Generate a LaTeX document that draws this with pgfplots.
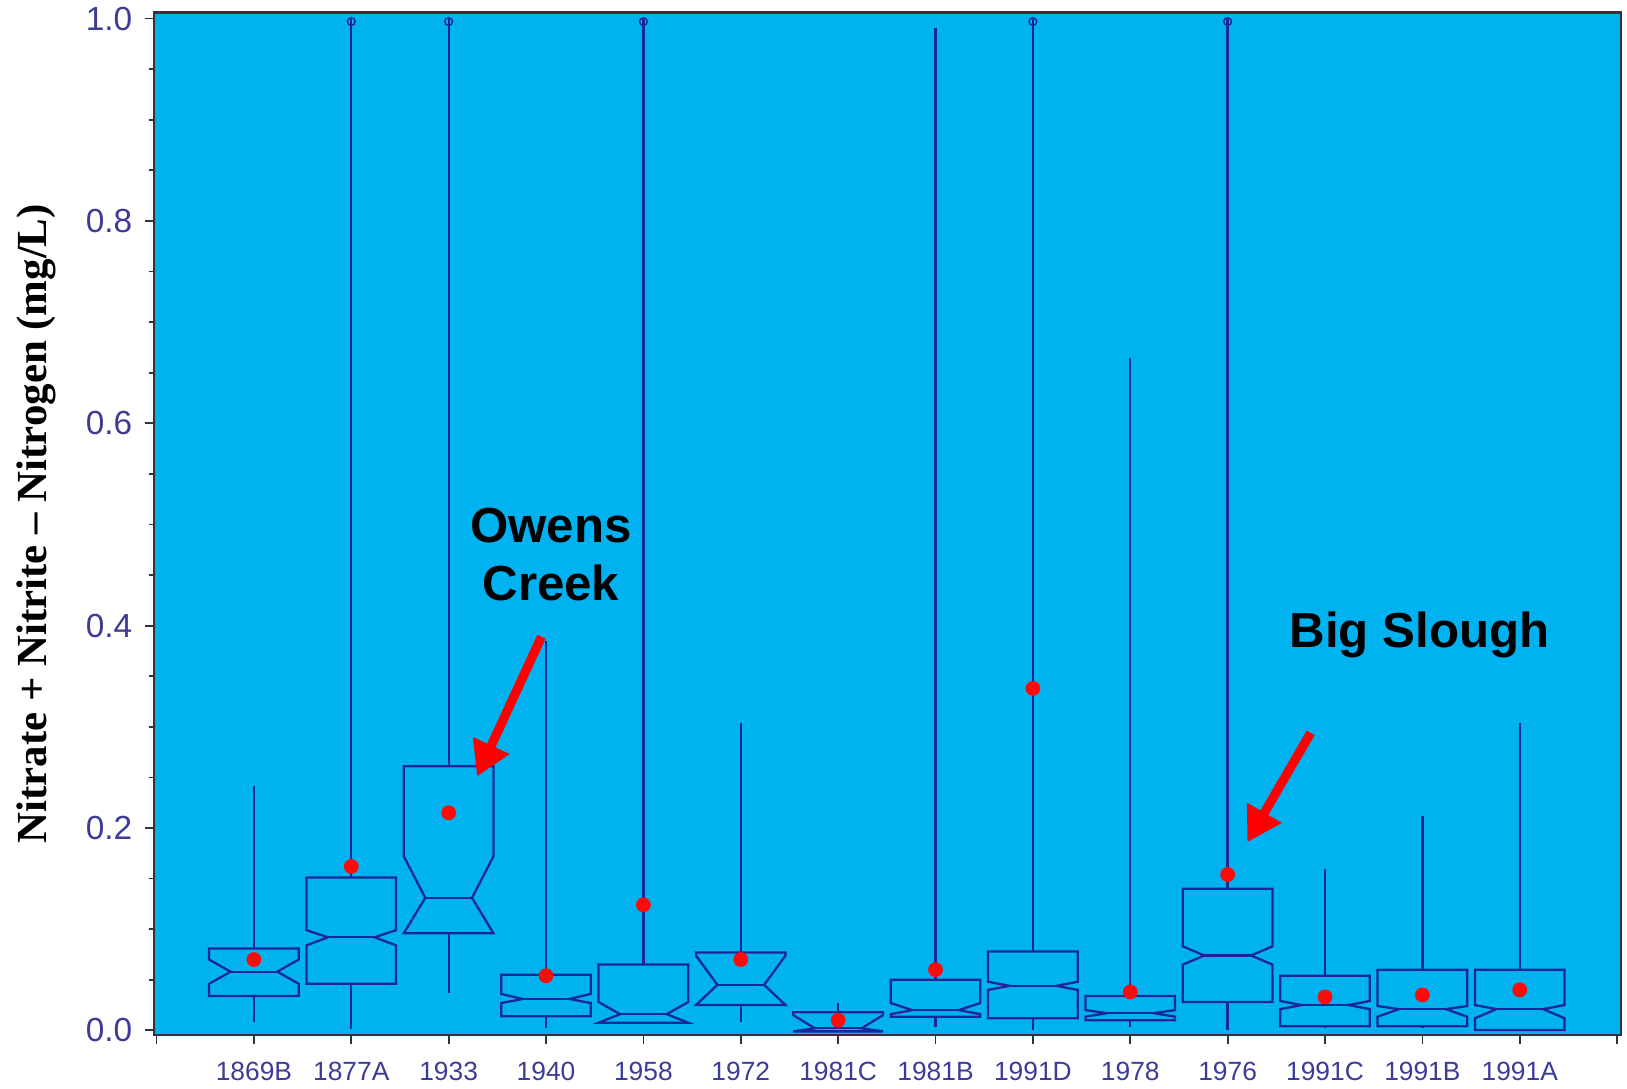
\documentclass[border=0pt]{standalone}
\usepackage{fontspec}
\setmainfont{Liberation Sans}
\newfontfamily\ylabfont{Liberation Serif}
\usepackage{pgfplots}
\pgfplotsset{compat=1.18}
\usetikzlibrary{arrows.meta}
\definecolor{bg}{RGB}{0,178,240}
\definecolor{boxc}{RGB}{25,40,150}
\definecolor{tickc}{RGB}{60,60,150}
\definecolor{meanred}{RGB}{255,10,10}
\tikzset{boxline/.style={boxc, line width=0.65pt, mark=none}}
% #1 x, #2 lower whisker, #3 Q1, #4 notch low, #5 median, #6 notch high, #7 Q3, #8 upper whisker, #9 mean
\newcommand{\nbox}[9]{%
  \pgfmathsetmacro\xa{#1-0.46}%
  \pgfmathsetmacro\xb{#1-0.24}%
  \pgfmathsetmacro\xc{#1+0.24}%
  \pgfmathsetmacro\xd{#1+0.46}%
  \edef\tmp{%
    \noexpand\addplot[boxline] coordinates {(#1,#7) (#1,#8)};
    \noexpand\addplot[boxline] coordinates {(#1,#3) (#1,#2)};
    \noexpand\addplot[boxline] coordinates {(\xa,#7) (\xd,#7) (\xd,#6) (\xc,#5) (\xd,#4) (\xd,#3) (\xa,#3) (\xa,#4) (\xb,#5) (\xa,#6) (\xa,#7) (\xd,#7)};
    \noexpand\addplot[boxline] coordinates {(\xb,#5) (\xc,#5)};
    \noexpand\addplot[only marks, mark=*, mark size=1.9pt, meanred] coordinates {(#1,#9)};
  }\tmp}
\begin{document}
\begin{tikzpicture}
\begin{axis}[name=ax, scale only axis, width=14.674cm, height=10.225cm,
  xmin=-0.03, xmax=15.04, ymin=-0.0046, ymax=1.006,
  axis background/.style={fill=bg},
  xtick={0,...,15},
  xticklabels={,1869B,1877A,1933,1940,1958,1972,1981C,1981B,1991D,1978,1976,1991C,1991B,1991A,},
  ytick={0,0.2,0.4,0.6,0.8,1.0}, minor y tick num=3,
  tick align=outside, xtick pos=bottom, ytick pos=left,
  major tick length=0.09cm, minor tick length=0.05cm,
  every tick/.style={black!80, line width=0.5pt},
  /pgf/number format/assume math mode=true,
  yticklabel style={/pgf/number format/.cd, fixed, fixed zerofill, precision=1, /tikz/.cd, font=\fontsize{9.5}{11}\selectfont, text=tickc},
  xticklabel style={font=\fontsize{7.5}{9}\selectfont, text=tickc, yshift=-0.06cm},
  axis line style={black!80, line width=0.6pt},
  clip=false,
]
\nbox{1}{0.008}{0.034}{0.046}{0.058}{0.070}{0.081}{0.242}{0.070}
\nbox{2}{0.001}{0.046}{0.084}{0.092}{0.099}{0.151}{1.0}{0.162}
\nbox{3}{0.037}{0.096}{0.096}{0.131}{0.172}{0.261}{1.0}{0.215}
\nbox{4}{0.002}{0.014}{0.027}{0.031}{0.036}{0.055}{0.385}{0.054}
\nbox{5}{0.0076}{0.0076}{0.0076}{0.016}{0.028}{0.065}{1.0}{0.124}
\nbox{6}{0.008}{0.025}{0.025}{0.045}{0.074}{0.077}{0.304}{0.070}
\nbox{7}{-0.001}{-0.001}{-0.001}{0.002}{0.015}{0.018}{0.027}{0.010}
\nbox{8}{0.003}{0.0135}{0.016}{0.020}{0.027}{0.050}{0.991}{0.060}
\nbox{9}{0.0}{0.012}{0.040}{0.044}{0.048}{0.078}{1.0}{0.338}
\nbox{10}{0.003}{0.010}{0.0135}{0.017}{0.020}{0.034}{0.665}{0.038}
\nbox{11}{0.0}{0.028}{0.065}{0.074}{0.083}{0.140}{1.0}{0.154}
\nbox{12}{0.002}{0.004}{0.021}{0.025}{0.029}{0.054}{0.159}{0.033}
\nbox{13}{0.002}{0.004}{0.0135}{0.021}{0.024}{0.060}{0.212}{0.035}
\nbox{14}{0.0}{0.0003}{0.012}{0.021}{0.025}{0.060}{0.304}{0.040}
% outliers at the top
\addplot[only marks, mark=o, mark size=1.1pt, boxc, line width=0.4pt] coordinates {(2,0.997) (3,0.997) (5,0.997) (9,0.997) (11,0.997)};
% annotations
\draw[red, line width=2.6pt, -{Triangle[length=0.34cm,width=0.38cm]}] (axis cs:3.953,0.389) -- (axis cs:3.292,0.251);
\draw[red, line width=2.6pt, -{Triangle[length=0.34cm,width=0.38cm]}] (axis cs:11.853,0.294) -- (axis cs:11.202,0.186);
\node[font=\fontsize{14}{16.5}\selectfont\bfseries, align=center, text=black] at (axis cs:4.05,0.470) {Owens\\Creek};
\node[font=\fontsize{14}{16.5}\selectfont\bfseries, text=black] at (axis cs:12.97,0.391) {Big Slough};
\end{axis}
\node[rotate=90, anchor=center, font=\ylabfont\bfseries\fontsize{12.2}{14}\selectfont] at ([xshift=-1.17cm]ax.west) {Nitrate + Nitrite \textendash{} Nitrogen (mg/L)};
\pgfresetboundingbox
\path[use as bounding box] ([xshift=-1.536cm,yshift=-0.53cm]ax.south west) rectangle ([xshift=0.06cm,yshift=0.125cm]ax.north east);
\end{tikzpicture}
\end{document}
